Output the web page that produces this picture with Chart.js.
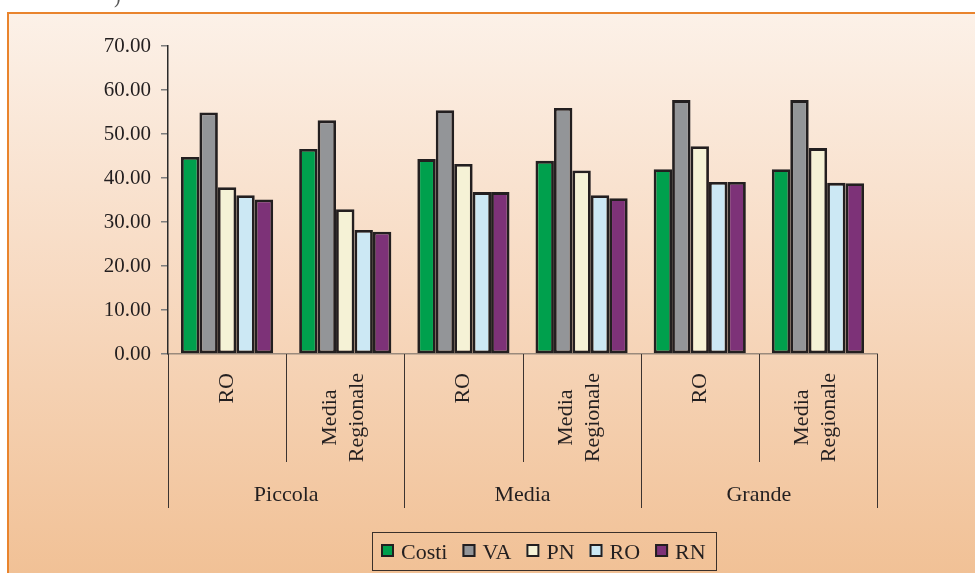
<!DOCTYPE html>
<html>
<head>
<meta charset="utf-8">
<script src="https://cdn.jsdelivr.net/npm/chart.js@4/dist/chart.umd.min.js"></script>
<style>
  html, body { margin: 0; padding: 0; background: #ffffff; overflow: hidden; }
  #wrap { width: 975px; height: 573px; position: relative; }
</style>
</head>
<body>
<div id="wrap"><canvas id="c" width="975" height="573"></canvas></div>
<script>
// Company size groups and the two comparisons inside each group
const groups = ['Piccola', 'Media', 'Grande'];
const subLabels = [['RO'], ['Media', 'Regionale']];
const categories = ['RO', 'Media Regionale', 'RO', 'Media Regionale', 'RO', 'Media Regionale'];

// Indicator values per category
const costi = [44.8, 46.6, 44.3, 43.9, 42.0, 42.0];
const va    = [54.9, 53.1, 55.4, 55.9, 57.7, 57.7];
const pn    = [37.9, 32.9, 43.2, 41.7, 47.2, 46.8];
const ro    = [36.1, 28.2, 36.8, 36.1, 39.1, 38.9];
const rn    = [35.1, 27.8, 36.8, 35.4, 39.1, 38.8];

const seriesNames = ['Costi', 'VA', 'PN', 'RO', 'RN'];
const seriesColors = ['#00A04D', '#939598', '#F5F2D6', '#CCE8F4', '#7D3278'];

// Value axis
const yMin = 0, yMax = 70, yStep = 10;

const SERIF = "'Liberation Serif', 'Times New Roman', serif";
const INK = '#231f20';

const seriesData = [costi, va, pn, ro, rn];

const framePlugin = {
  id: 'frame',
  beforeDraw(chart) {
    const ctx = chart.ctx;
    const W = chart.width, H = chart.height;
    ctx.save();
    ctx.fillStyle = '#ffffff';
    ctx.fillRect(0, 0, W, H);
    const g = ctx.createLinearGradient(0, 12, 0, H);
    g.addColorStop(0, '#FCF1E8');
    g.addColorStop(0.5, '#F7D9C0');
    g.addColorStop(1, '#F1C196');
    ctx.fillStyle = g;
    ctx.fillRect(7, 12, W - 7, H - 12);
    ctx.strokeStyle = '#E9842D';
    ctx.lineWidth = 2;
    ctx.beginPath();
    ctx.moveTo(8, H + 2);
    ctx.lineTo(8, 13);
    ctx.lineTo(W + 2, 13);
    ctx.stroke();
    // fragment of the line above the frame
    ctx.fillStyle = '#555';
    ctx.font = '20px ' + SERIF;
    ctx.textAlign = 'left';
    ctx.textBaseline = 'alphabetic';
    ctx.fillText(')', 114, 3);
    ctx.restore();
  },
  afterDraw(chart) {
    const ctx = chart.ctx;
    const x = chart.scales.x;
    const area = chart.chartArea;
    const base = area.bottom;
    const half = (x.getPixelForValue(1) - x.getPixelForValue(0)) / 2;
    const perGroup = subLabels.length;
    ctx.save();

    // dividers below the axis
    ctx.strokeStyle = '#3b3330';
    ctx.lineWidth = 1;
    for (let i = 0; i <= categories.length; i++) {
      const px = Math.round((i < categories.length ? x.getPixelForValue(i) - half : x.getPixelForValue(i - 1) + half)) + 0.5;
      const long = i % perGroup === 0;
      ctx.beginPath();
      ctx.moveTo(px, base);
      ctx.lineTo(px, long ? 508 : 462);
      ctx.stroke();
    }

    // rotated sub-category labels
    ctx.fillStyle = INK;
    ctx.font = '22px ' + SERIF;
    ctx.textAlign = 'center';
    ctx.textBaseline = 'middle';
    const lineH = 27;
    for (let i = 0; i < categories.length; i++) {
      const lines = subLabels[i % perGroup];
      const cx = x.getPixelForValue(i);
      let wMax = 0;
      lines.forEach(l => { wMax = Math.max(wMax, ctx.measureText(l).width); });
      const cy = 373 + wMax / 2;
      ctx.save();
      ctx.translate(cx, cy);
      ctx.rotate(-Math.PI / 2);
      lines.forEach((l, k) => {
        const off = (k - (lines.length - 1) / 2) * lineH - (lines.length > 1 ? 2 : 0);
        ctx.fillText(l, 0, off);
      });
      ctx.restore();
    }

    // group labels
    ctx.textBaseline = 'alphabetic';
    groups.forEach((gname, gi) => {
      const a = x.getPixelForValue(gi * perGroup) - half;
      const b = x.getPixelForValue(gi * perGroup + perGroup - 1) + half;
      ctx.fillText(gname, (a + b) / 2, 501);
    });

    // legend
    ctx.font = '22px ' + SERIF;
    ctx.textAlign = 'left';
    ctx.strokeStyle = '#3a302a';
    ctx.lineWidth = 1;
    ctx.strokeRect(372.5, 532.5, 344, 38);
    let lx = 381;
    chart.data.datasets.forEach(ds => {
      ctx.fillStyle = ds.backgroundColor;
      ctx.fillRect(lx, 544, 13, 13);
      ctx.strokeStyle = INK;
      ctx.lineWidth = 2;
      ctx.strokeRect(lx + 1, 545, 11, 11);
      ctx.fillStyle = INK;
      ctx.fillText(ds.label, lx + 20, 559);
      lx += 20 + ctx.measureText(ds.label).width + 15;
    });
    ctx.restore();
  }
};

new Chart(document.getElementById('c'), {
  type: 'bar',
  data: {
    labels: categories,
    datasets: seriesNames.map((name, i) => ({
      label: name,
      data: seriesData[i],
      backgroundColor: seriesColors[i],
      borderColor: INK,
      borderWidth: 2.8,
      borderSkipped: false,
      categoryPercentage: 0.78,
      barPercentage: 1.0
    }))
  },
  options: {
    responsive: false,
    animation: false,
    devicePixelRatio: 1,
    layout: { padding: { top: 46, left: 0, right: 98, bottom: 0 } },
    plugins: {
      legend: { display: false },
      tooltip: { enabled: false },
      title: { display: false }
    },
    scales: {
      x: {
        offset: true,
        grid: { display: false },
        ticks: { display: false },
        border: { display: true, color: '#9a8a7c', width: 1.5 },
        afterFit(s) { s.height = 573 - 354; }
      },
      y: {
        min: yMin,
        max: yMax,
        ticks: {
          stepSize: yStep,
          padding: 10,
          color: INK,
          font: { family: SERIF, size: 21 },
          callback: v => Number(v).toFixed(2)
        },
        grid: { drawOnChartArea: false, drawTicks: true, tickLength: 7, color: '#7d7d7d', lineWidth: 1.5 },
        border: { display: true, color: '#2b2b2b', width: 1.5 },
        afterFit(s) { s.width = 168; }
      }
    }
  },
  plugins: [framePlugin]
});
</script>
</body>
</html>
